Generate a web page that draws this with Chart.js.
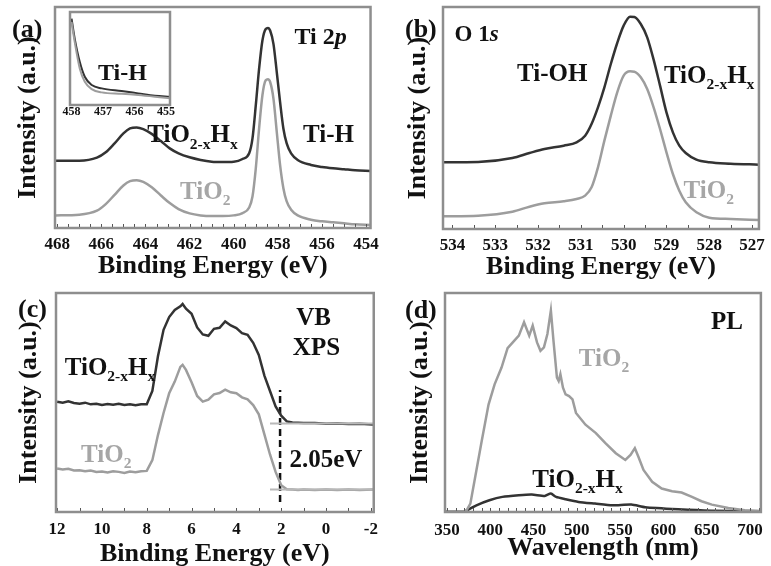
<!DOCTYPE html>
<html>
<head>
<meta charset="utf-8">
<script src="https://cdn.jsdelivr.net/npm/chart.js@4.4.1/dist/chart.umd.min.js"></script>
<style>
  body { margin: 0; background: #fff; }
  #wrap { position: relative; width: 771px; height: 566px; overflow: hidden; background: #fff; }
  canvas { position: absolute; }
</style>
</head>
<body>
<div id="wrap">
  <canvas id="chartA" width="385" height="283" style="left:0px;top:0px"></canvas>
  <canvas id="chartInset" width="125" height="122" style="left:55px;top:0px"></canvas>
  <canvas id="chartB" width="386" height="283" style="left:385px;top:0px"></canvas>
  <canvas id="chartC" width="385" height="283" style="left:0px;top:283px"></canvas>
  <canvas id="chartD" width="386" height="283" style="left:385px;top:283px"></canvas>
</div>
<script>
// (a) Ti 2p
const ti2pEnergy = [468.1, 467, 466.2, 465.8, 465.4, 465, 464.7, 464.4, 464.1, 463.7, 463.3, 462.9, 462.5, 462, 461.5, 461, 460.5, 460, 459.6, 459.3, 459.15, 459.0, 458.85, 458.7, 458.55, 458.45, 458.35, 458.2, 458.05, 457.9, 457.75, 457.6, 457.4, 457.1, 456.5, 456, 455.5, 455, 454.5, 453.8];
const ti2pHx = [203, 203, 212, 228, 255, 285, 300, 303, 298, 283, 262, 240, 225, 213, 205, 200, 199, 200, 208, 225, 270, 370, 480, 565, 600, 603, 595, 555, 470, 380, 300, 255, 225, 205, 190, 184, 180, 177, 174, 172];
const ti2pTiO2 = [38, 40, 52, 72, 100, 128, 141, 144, 139, 122, 98, 75, 57, 44, 38, 36, 36, 38, 45, 62, 95, 180, 300, 400, 445, 448, 440, 390, 290, 190, 120, 80, 55, 38, 25, 20, 17, 14, 11, 9];
const ti2pTicks = [468, 466, 464, 462, 460, 458, 456, 454];

// (a) inset, Ti-H region
const insetEnergy = [458.0, 457.9, 457.74, 457.58, 457.36, 457.04, 456.41, 455.88, 455.35, 454.87];
const insetHx = [260, 200, 130, 85, 60, 50, 42, 35, 28, 25];
const insetTiO2 = [250, 190, 110, 70, 48, 38, 34, 30, 25, 20];
const insetTicks = [458, 457, 456, 455];

// (b) O 1s
const o1sEnergy = [534.22, 533.4, 532.6, 532.2, 531.85, 531.4, 531.1, 530.9, 530.75, 530.6, 530.45, 530.3, 530.15, 530.0, 529.85, 529.75, 529.6, 529.45, 529.3, 529.15, 529.0, 528.85, 528.7, 528.55, 528.3, 528.0, 527.5, 526.84];
const o1sHx = [200, 201, 213, 228, 240, 250, 260, 280, 315, 365, 425, 495, 558, 610, 637, 636, 615, 575, 508, 430, 350, 290, 250, 228, 208, 200, 196, 193];
const o1sTiO2 = [38, 40, 52, 67, 77, 83, 90, 100, 125, 185, 265, 340, 410, 460, 473, 472, 455, 420, 365, 300, 230, 165, 115, 80, 50, 34, 30, 27];
const o1sTicks = [534, 533, 532, 531, 530, 529, 528, 527];

// (c) valence band XPS
const vbEnergy = [12.0, 11.75, 11.5, 11.25, 11.0, 10.75, 10.5, 10.25, 10.0, 9.75, 9.5, 9.25, 9.0, 8.75, 8.5, 8.25, 8.0, 7.75, 7.5, 7.25, 7.0, 6.75, 6.5, 6.4, 6.25, 6.0, 5.75, 5.5, 5.25, 5.0, 4.75, 4.5, 4.25, 4.0, 3.75, 3.5, 3.25, 3.0, 2.75, 2.5, 2.25, 2.0, 1.75, 1.5, 1.25, 1.0, 0.5, 0.0, -0.5, -1.0, -1.5, -2.1];
const vbHx = [330, 327, 331, 326, 324, 327, 322, 324, 320, 323, 321, 324, 320, 322, 319, 322, 322, 362, 466, 545, 583, 604, 615, 622, 608, 593, 552, 531, 527, 548, 551, 570, 558, 550, 535, 530, 506, 470, 408, 362, 316, 288, 271, 268, 267, 266, 266, 264, 265, 263, 264, 262];
const vbTiO2 = [130, 127, 129, 124, 125, 122, 124, 120, 121, 118, 122, 120, 117, 121, 119, 122, 123, 155, 230, 296, 355, 390, 434, 440, 425, 388, 347, 330, 336, 352, 356, 366, 358, 355, 343, 337, 320, 292, 232, 172, 120, 80, 68, 67, 66, 67, 66, 67, 66, 67, 66, 67];
const vbBaseEnergy = [2.5, -2.1];
const vbBaseHx = [265, 265];
const vbBaseTiO2 = [67, 67];
const vbEdgeEnergy = [2.05, 2.05];
const vbEdgeLevel = [30, 365];
const vbTicks = [12, 10, 8, 6, 4, 2, 0, -2];

// (d) PL
const plTiO2Nm = [349, 372, 377, 383, 390, 398, 405, 413, 420, 426, 433, 439, 445, 449, 454, 458, 462, 466, 470, 473, 477, 479, 481, 484, 487, 491, 495, 499, 510, 522, 533, 545, 556, 562, 567, 571, 577, 587, 598, 610, 621, 633, 644, 656, 675, 694, 712];
const plTiO2 = [2, 2, 25, 110, 210, 320, 380, 430, 488, 505, 525, 565, 525, 555, 505, 480, 490, 530, 600, 510, 400, 390, 410, 370, 350, 345, 335, 295, 260, 235, 205, 175, 155, 170, 190, 165, 125, 90, 70, 62, 58, 45, 32, 22, 12, 5, 3];
const plHxNm = [349, 370, 384, 399, 414, 433, 448, 463, 470, 476, 487, 502, 521, 541, 563, 579, 617, 655, 712];
const plHx = [2, 2, 20, 35, 45, 50, 52, 48, 55, 45, 38, 30, 25, 20, 22, 14, 8, 4, 2];
const plTicks = [350, 400, 450, 500, 550, 600, 650, 700];

const SERIF = "'Liberation Serif', 'Times New Roman', serif";
const DARK = '#333333';
const GREY = '#9d9d9d';
const GREY_TXT = '#a6a6a6';
const INK = '#111111';
const HX = ['TiO', ['2-x', 'sub'], 'H', ['x', 'sub']];
const O2 = ['TiO', ['2', 'sub']];

Chart.defaults.font.family = SERIF;
Chart.defaults.font.weight = 'bold';
Chart.defaults.font.size = 17;
Chart.defaults.color = INK;

function pts(xs, ys) {
    return xs.map((v, i) => ({ x: v, y: ys[i] }));
}

function curve(xs, ys, color, extra) {
    return Object.assign({
        data: pts(xs, ys),
        borderColor: color,
        borderWidth: 2.5,
        pointRadius: 0,
        fill: false,
        cubicInterpolationMode: 'monotone'
    }, extra || {});
}

function drawRich(ctx, parts, x, y, size, color) {
    ctx.fillStyle = color;
    ctx.textAlign = 'left';
    ctx.textBaseline = 'alphabetic';
    let cx = x;
    parts.forEach(p => {
        const txt = Array.isArray(p) ? p[0] : p;
        const kind = Array.isArray(p) ? p[1] : '';
        const sz = kind === 'sub' ? size * 0.62 : size;
        ctx.font = (kind === 'it' ? 'italic ' : '') + 'bold ' + sz + 'px ' + SERIF;
        ctx.fillText(txt, cx, y + (kind === 'sub' ? size * 0.25 : 0));
        cx += ctx.measureText(txt).width;
    });
}

// text written inside/around the plot, placed by data values (or canvas pixels for panel letters)
function notesPlugin(items) {
    return {
        id: 'notes',
        afterDraw(chart) {
            const { ctx, scales } = chart;
            ctx.save();
            items.forEach(n => {
                const px = n.at ? n.at[0] : scales.x.getPixelForValue(n.x);
                const py = n.at ? n.at[1] : scales.y.getPixelForValue(n.y);
                drawRich(ctx, n.parts, px, py, n.size || 25, n.color || INK);
            });
            ctx.restore();
        }
    };
}

// grey box round the plot plus small inner ticks on the bottom axis
function framePlugin(step, width) {
    return {
        id: 'frame',
        afterDatasetsDraw(chart) {
            const { ctx, chartArea: a, scales: { x } } = chart;
            ctx.save();
            if (step) {
                ctx.strokeStyle = '#555';
                ctx.lineWidth = 1;
                const n0 = Math.ceil(x.min / step - 1e-6);
                const n1 = Math.floor(x.max / step + 1e-6);
                for (let n = n0; n <= n1; n++) {
                    const px = Math.round(x.getPixelForValue(n * step)) + 0.5;
                    ctx.beginPath();
                    ctx.moveTo(px, a.bottom);
                    ctx.lineTo(px, a.bottom - 4);
                    ctx.stroke();
                }
            }
            ctx.strokeStyle = '#8e8e8e';
            ctx.lineWidth = width || 2.5;
            ctx.strokeRect(a.left, a.top, a.width, a.height);
            ctx.restore();
        }
    };
}

function makePanel(id, cfg) {
    const tickFont = { family: SERIF, size: cfg.tickSize || 17, weight: 'bold' };
    const titleFont = { family: SERIF, size: 26, weight: 'bold' };
    return new Chart(document.getElementById(id), {
        type: 'line',
        data: { datasets: cfg.datasets },
        options: {
            responsive: false,
            animation: false,
            devicePixelRatio: 1,
            layout: { autoPadding: false, padding: { left: cfg.left || 0, top: cfg.top, right: cfg.right, bottom: 0 } },
            plugins: { legend: { display: false }, tooltip: { enabled: false } },
            scales: {
                x: {
                    type: 'linear',
                    bounds: 'data',
                    reverse: cfg.reverse,
                    min: cfg.xMin,
                    max: cfg.xMax,
                    afterBuildTicks: s => { s.ticks = cfg.ticks.map(v => ({ value: v })); },
                    afterFit: s => { s.height = cfg.xHeight; },
                    grid: { display: false, drawTicks: false },
                    border: { display: false },
                    ticks: {
                        autoSkip: false, maxRotation: 0, padding: cfg.tickPad, color: INK,
                        font: tickFont
                    },
                    title: {
                        display: !!cfg.xTitle, text: cfg.xTitle, color: INK,
                        font: titleFont,
                        padding: { top: 0, bottom: cfg.xTitlePad }
                    }
                },
                y: {
                    display: cfg.yWidth > 0,
                    min: 0,
                    max: cfg.yMax,
                    afterFit: s => { s.width = cfg.yWidth; },
                    grid: { display: false, drawTicks: false },
                    border: { display: false },
                    ticks: { display: false },
                    title: {
                        display: true, text: 'Intensity (a.u.)', color: INK,
                        font: titleFont,
                        padding: { top: cfg.yTitlePad, bottom: 0 }
                    }
                }
            }
        },
        plugins: [framePlugin(cfg.minor, cfg.frameWidth), notesPlugin(cfg.notes)]
    });
}

makePanel('chartA', {
    datasets: [curve(ti2pEnergy, ti2pTiO2, GREY), curve(ti2pEnergy, ti2pHx, DARK)],
    reverse: true, xMin: 453.8, xMax: 468.1, ticks: ti2pTicks, yMax: 666,
    top: 7, right: 9, yWidth: 55, xHeight: 55, tickPad: 6, xTitlePad: 1, yTitlePad: 13,
    xTitle: 'Binding Energy (eV)', minor: 0.5,
    notes: [
        { at: [12, 37], parts: ['(a)'], size: 26 },
        { x: 457.25, y: 553, parts: ['Ti 2', ['p', 'it']], size: 24 },
        { x: 463.92, y: 258, parts: HX },
        { x: 456.86, y: 258, parts: ['Ti-H'] },
        { x: 462.43, y: 88, parts: O2, color: GREY_TXT }
    ]
});

makePanel('chartInset', {
    datasets: [curve(insetEnergy, insetTiO2, GREY, { borderWidth: 2 }), curve(insetEnergy, insetHx, DARK, { borderWidth: 2 })],
    reverse: true, xMin: 454.87, xMax: 458.05, ticks: insetTicks, yMax: 280,
    left: 15, top: 12, right: 10, yWidth: 0, xHeight: 17, tickPad: 0, tickSize: 12,
    xTitle: '', minor: 0, frameWidth: 2.5,
    notes: [
        { x: 457.16, y: 75, parts: ['Ti-H'], size: 24 }
    ]
});

makePanel('chartB', {
    datasets: [curve(o1sEnergy, o1sTiO2, GREY), curve(o1sEnergy, o1sHx, DARK)],
    reverse: true, xMin: 526.84, xMax: 534.22, ticks: o1sTicks, yMax: 666,
    top: 7, right: 8, yWidth: 58, xHeight: 54, tickPad: 6, xTitlePad: 0, yTitlePad: 18,
    xTitle: 'Binding Energy (eV)', minor: 0.5,
    notes: [
        { at: [20, 37], parts: ['(b)'], size: 26 },
        { x: 533.95, y: 563, parts: ['O 1', ['s', 'it']], size: 23 },
        { x: 532.49, y: 443, parts: ['Ti-OH'] },
        { x: 529.06, y: 438, parts: HX },
        { x: 528.6, y: 93, parts: O2, color: GREY_TXT }
    ]
});

makePanel('chartC', {
    datasets: [
        curve(vbBaseEnergy, vbBaseHx, '#b8b8b8', { borderWidth: 2, cubicInterpolationMode: 'default', tension: 0 }),
        curve(vbBaseEnergy, vbBaseTiO2, '#b8b8b8', { borderWidth: 2, cubicInterpolationMode: 'default', tension: 0 }),
        curve(vbEnergy, vbTiO2, GREY, { cubicInterpolationMode: 'default', tension: 0 }),
        curve(vbEnergy, vbHx, DARK, { cubicInterpolationMode: 'default', tension: 0 }),
        curve(vbEdgeEnergy, vbEdgeLevel, INK, { cubicInterpolationMode: 'default', tension: 0, borderDash: [7, 4], borderWidth: 2.5 })
    ],
    reverse: true, xMin: -2.13, xMax: 12.05, ticks: vbTicks, yMax: 655,
    top: 10, right: 10, yWidth: 56, xHeight: 54, tickPad: 7, xTitlePad: -4, yTitlePad: 14,
    xTitle: 'Binding Energy (eV)', minor: 1,
    notes: [
        { at: [18, 34], parts: ['(c)'], size: 26 },
        { x: 11.66, y: 410, parts: HX },
        { x: 10.93, y: 150, parts: O2, color: GREY_TXT },
        { x: 1.33, y: 560, parts: ['VB'] },
        { x: 1.48, y: 470, parts: ['XPS'] },
        { x: 1.63, y: 135, parts: ['2.05eV'] }
    ]
});

makePanel('chartD', {
    datasets: [
        curve(plTiO2Nm, plTiO2, GREY, { cubicInterpolationMode: 'default', tension: 0 }),
        curve(plHxNm, plHx, DARK, { cubicInterpolationMode: 'default', tension: 0.2 })
    ],
    reverse: false, xMin: 347.7, xMax: 712.6, ticks: plTicks, yMax: 652,
    top: 10, right: 8, yWidth: 60, xHeight: 54, tickPad: 8, xTitlePad: 2, yTitlePad: 20,
    xTitle: 'Wavelength (nm)', minor: 10,
    notes: [
        { at: [20, 35], parts: ['(d)'], size: 26 },
        { x: 655, y: 545, parts: ['PL'] },
        { x: 502.3, y: 435, parts: O2, color: GREY_TXT },
        { x: 448.6, y: 75, parts: HX }
    ]
});
</script>
</body>
</html>
